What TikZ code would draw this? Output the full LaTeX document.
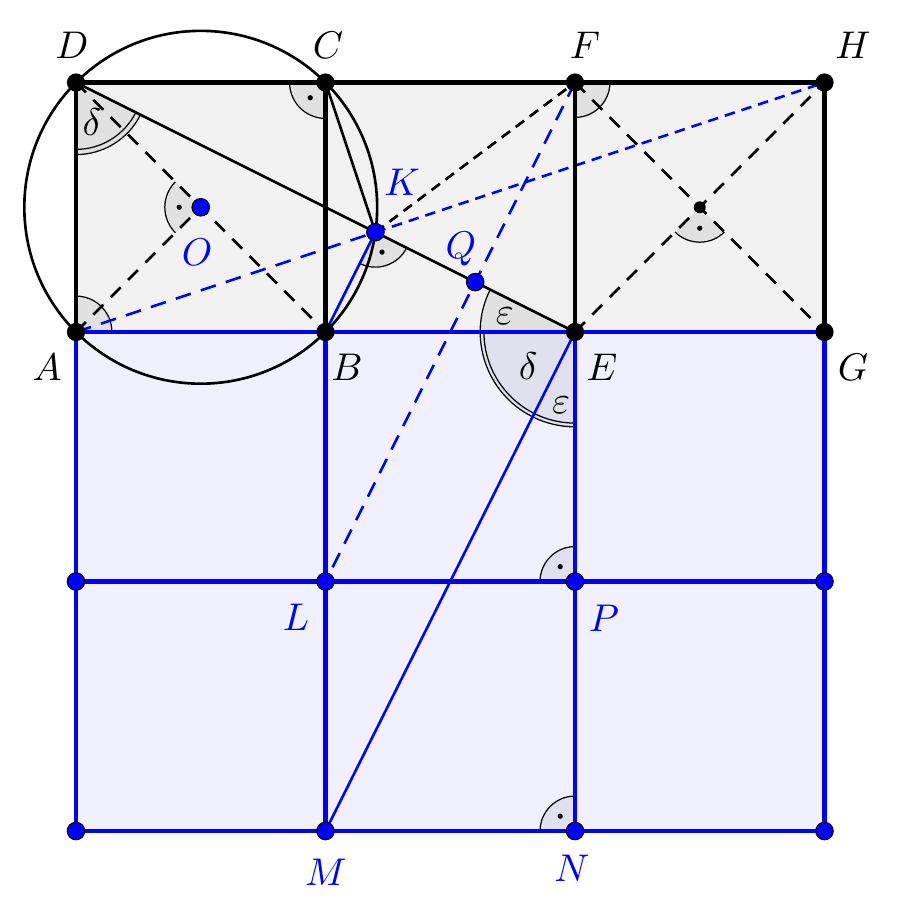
\documentclass[tikz,border=0pt]{standalone}
\usetikzlibrary{calc}
\begin{document}
\begin{tikzpicture}[x=2.5cm,y=2.5cm,
  thickblk/.style={line width=1.3pt,black},
  thickblu/.style={line width=1.3pt,blue},
  midblk/.style={line width=0.75pt,black},
  midblu/.style={line width=0.75pt,blue},
  dashblk/.style={line width=0.75pt,black,dash pattern=on 4pt off 3pt},
  dashblkshort/.style={line width=0.75pt,black,dash pattern=on 3pt off 2pt},
  dashblu/.style={line width=0.75pt,blue,dash pattern=on 4.5pt off 3pt},
  dashblushort/.style={line width=0.75pt,blue,dash pattern=on 3pt off 2pt},
  angfill/.style={fill=black,fill opacity=0.065},
  angline/.style={line width=0.35pt,black},
  bpt/.style={circle,fill=black,inner sep=0pt,minimum size=5.2pt},
  spt/.style={circle,fill=black,inner sep=0pt,minimum size=3.4pt},
  upt/.style={circle,fill=blue,draw=black,line width=0.3pt,inner sep=0pt,minimum size=5pt},
  blab/.style={text=black,scale=1.1},
  ulab/.style={text=blue,scale=1.1},
  glab/.style={scale=1.1}]
\useasboundingbox (-0.3046,-2.3607) rectangle (3.3026,1.3307);
% coordinates
\coordinate (A) at (0,0); \coordinate (B) at (1,0); \coordinate (E) at (2,0); \coordinate (G) at (3,0);
\coordinate (D) at (0,1); \coordinate (C) at (1,1); \coordinate (F) at (2,1); \coordinate (H) at (3,1);
\coordinate (R1) at (0,-1); \coordinate (L) at (1,-1); \coordinate (P) at (2,-1); \coordinate (R2) at (3,-1);
\coordinate (S1) at (0,-2); \coordinate (M) at (1,-2); \coordinate (N) at (2,-2); \coordinate (S2) at (3,-2);
\coordinate (O) at (0.5,0.5); \coordinate (K) at (1.2,0.4); \coordinate (Q) at (1.6,0.2);
\coordinate (Z) at (2.5,0.5);
% backgrounds
\fill[black!5] (A) rectangle (H);
\fill[blue!6] (S1) rectangle (G);
% angle marks
\newcommand{\angarc}[4]{%
  \fill[angfill] (#1) -- ++(#2:#4) arc[start angle=#2,end angle=#3,radius=#4] -- cycle;
  \draw[angline] ($(#1)+(#2:#4)$) arc[start angle=#2,end angle=#3,radius=#4];}
\newcommand{\rang}[4]{%
  \angarc{#1}{#2}{#3}{#4}
  \fill ($(#1)+({(#2+#3)/2}:{0.6*#4})$) circle (0.75pt);}
\angarc{A}{0}{90}{0.144}
\rang{C}{180}{270}{0.144}
\rang{O}{135}{225}{0.144}
\rang{K}{243.43}{333.43}{0.14}
\angarc{F}{270}{360}{0.14}
\rang{Z}{225}{315}{0.14}
\rang{P}{90}{180}{0.14}
\rang{N}{90}{180}{0.14}
% delta at D
\fill[angfill] (D) -- ++(270:0.289) arc[start angle=270,end angle=333.43,radius=0.289] -- cycle;
\draw[angline] ($(D)+(270:0.289)$) arc[start angle=270,end angle=333.43,radius=0.289];
\draw[angline] ($(D)+(270:0.268)$) arc[start angle=270,end angle=333.43,radius=0.268];
% angles at E
\fill[angfill] (E) -- ++(153.43:0.38) arc[start angle=153.43,end angle=270,radius=0.38] -- cycle;
\draw[angline] ($(E)+(153.43:0.38)$) arc[start angle=153.43,end angle=270,radius=0.38];
\draw[angline] ($(E)+(180:0.365)$) arc[start angle=180,end angle=270,radius=0.365];
% circle
\draw[midblk] (O) circle ({sqrt(0.5)});
% dashed lines
\draw[dashblk] (D) -- (B);
\draw[dashblk] (A) -- (O);
\draw[dashblk] (F) -- (G);
\draw[dashblk] (E) -- (H);
\draw[dashblkshort] (K) -- (F);
\draw[dashblu] (A) -- (K);
\draw[dashblushort] (K) -- (H);
\draw[dashblu] (F) -- (L);
% solid lines
\draw[midblk] (D) -- (E);
\draw[midblk] (C) -- (K);
\draw[midblu] (B) -- (K);
\draw[midblu] (M) -- (E);
% grid
\draw[thickblu] (A) -- (S1) (B) -- (M) (E) -- (N) (G) -- (S2);
\draw[thickblu] (A) -- (G) (R1) -- (R2) (S1) -- (S2);
\draw[thickblk] (A) -- (D) -- (H) -- (G) (C) -- (B) (F) -- (E);
% points
\foreach \p in {A,B,E,G,D,C,F,H} \node[bpt] (pt\p) at (\p) {};
\node[spt] (ptZ) at (Z) {};
\foreach \p in {O,K,Q,L,P,M,N,R1,R2,S1,S2} \node[upt] (pt\p) at (\p) {};
% labels
\node[blab] (lD) at (-0.016,1.150) {$D$};
\node[blab] (lC) at (1.01,1.150) {$C$};
\node[blab] (lF) at (2.04,1.150) {$F$};
\node[blab] (lH) at (3.114,1.150) {$H$};
\node[blab] (lA) at (-0.116,-0.140) {$A$};
\node[blab] (lB) at (1.086,-0.140) {$B$};
\node[blab] (lE) at (2.108,-0.140) {$E$};
\node[blab] (lG) at (3.114,-0.140) {$G$};
\node[ulab] (lO) at (0.485,0.321) {$O$};
\node[ulab] (lK) at (1.307,0.601) {$K$};
\node[ulab] (lQ) at (1.543,0.333) {$Q$};
\node[ulab] (lL) at (0.882,-1.142) {$L$};
\node[ulab] (lP) at (2.116,-1.146) {$P$};
\node[ulab] (lM) at (1.002,-2.164) {$M$};
\node[ulab] (lN) at (1.988,-2.148) {$N$};
\node[glab] (d1) at (0.064,0.843) {$\delta$};
\node[glab] (d2) at (1.812,-0.136) {$\delta$};
\node[glab] (e1) at (1.944,-0.293) {$\varepsilon$};
\node[glab] (e2) at (1.719,0.064) {$\varepsilon$};
\end{tikzpicture}
\end{document}
